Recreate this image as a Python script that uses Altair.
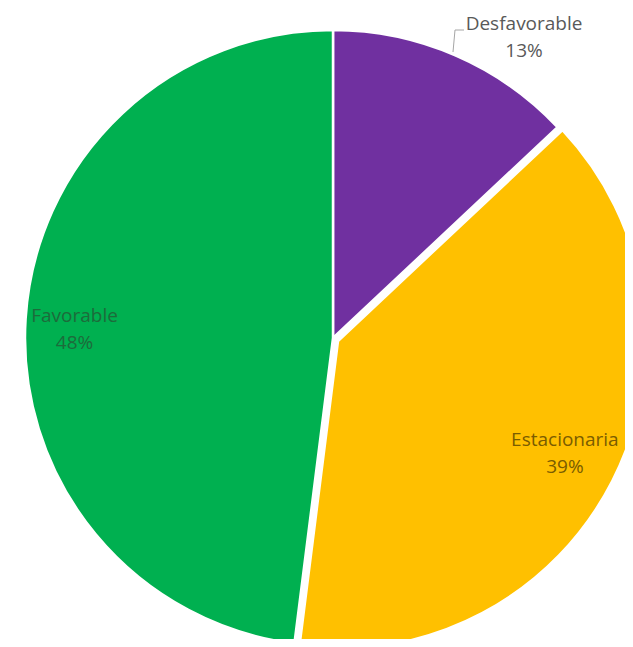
import altair as alt
import pandas as pd

categories = ["Desfavorable", "Estacionaria", "Favorable"]
values = [13, 39, 48]
colors = ["#7030A0", "#FFC000", "#00B050"]
label_colors = ["#595959", "#7a5c00", "#1d6b3b"]

df = pd.DataFrame({
    "cat": categories,
    "val": values,
    "ord": list(range(len(categories))),
    "lab": [f"{c}\n{v}%" for c, v in zip(categories, values)],
    "lcol": label_colors,
})

CX, CY, R = 325, 330, 308

base = alt.Chart(df).transform_window(
    cum="sum(val)", sort=[alt.SortField("ord")], frame=[None, 0]
).transform_calculate(
    start="datum.cum - datum.val", mid="datum.cum - datum.val/2"
)

theta_scale = alt.Scale(type="linear", domain=[0, 100], range=[0, 6.283185307])
color_scale = alt.Scale(domain=categories, range=colors)

def arcs(filter_expr, dx, dy):
    return base.transform_filter(filter_expr).mark_arc(
        outerRadius=R, stroke="white", strokeWidth=2.5
    ).encode(
        theta=alt.Theta("start:Q", scale=theta_scale),
        theta2="cum:Q",
        color=alt.Color("cat:N", scale=color_scale, legend=None),
        x=alt.value(CX + dx), y=alt.value(CY + dy),
    )

pie_main = arcs("datum.cat != 'Estacionaria'", 0, 0)
pie_expl = arcs("datum.cat == 'Estacionaria'", 5, 3)

font = "Open Sans"
FS = 19

def label(cat, radius, dx, dy):
    return base.transform_filter(f"datum.cat == '{cat}'").mark_text(
        radius=radius, fontSize=FS, font=font, lineBreak="\n", lineHeight=27,
        baseline="middle", dx=dx, dy=dy
    ).encode(
        theta=alt.Theta("mid:Q", scale=theta_scale),
        text="lab:N",
        color=alt.Color("lcol:N", scale=None),
        x=alt.value(CX), y=alt.value(CY),
    )

lab_fav = label("Favorable", 258, -1, -6)
lab_est = label("Estacionaria", 258, 2, -15)
lab_des = label("Desfavorable", 330, 60, -11)

leader_v = alt.Chart(df).mark_rule(color="#a6a6a6", strokeWidth=1).encode(
    x=alt.value(445), y=alt.value(44), x2=alt.value(447), y2=alt.value(22)
).transform_filter("datum.cat == 'Desfavorable'")
leader_h = alt.Chart(df).mark_rule(color="#a6a6a6", strokeWidth=1).encode(
    x=alt.value(447), y=alt.value(22), x2=alt.value(456), y2=alt.value(22)
).transform_filter("datum.cat == 'Desfavorable'")

chart = alt.layer(pie_main, pie_expl, lab_fav, lab_est, lab_des, leader_v, leader_h).properties(
    width=617, height=631, autosize=alt.AutoSizeParams(type="none"), padding=0
).configure_view(stroke=None)

chart.save("out.html", embed_options={"renderer": "svg", "actions": False})
